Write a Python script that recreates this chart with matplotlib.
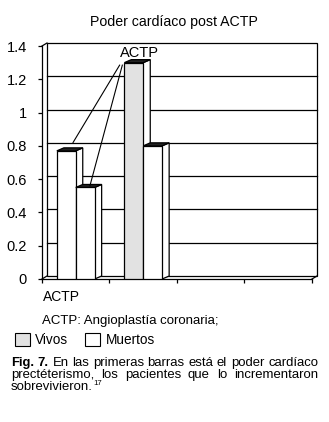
import matplotlib
matplotlib.use("Agg")
import matplotlib.pyplot as plt
from matplotlib.patches import Rectangle, Polygon

plt.rcParams['font.family'] = ['Liberation Sans', 'DejaVu Sans']

# ---------------- data ----------------
title = "Poder cardíaco post ACTP"
n_categories = 4
category_label = "ACTP"
bar_values = [0.77, 0.55, 1.30, 0.80]
bar_category = [0, 0, 1, 1]
bar_slot = [0, 1, 0, 1]
bar_colors = ["white", "white", "#e2e2e2", "white"]
yticks = [0, 0.2, 0.4, 0.6, 0.8, 1.0, 1.2, 1.4]
ytick_labels = ["0", "0.2", "0.4", "0.6", "0.8", "1", "1.2", "1.4"]
annotation_text = "ACTP"
footnote = "ACTP: Angioplastía coronaria;"
legend_labels = ["Vivos", "Muertos"]
legend_colors = ["#e2e2e2", "white"]
caption_lines = [
    "Fig. 7. En las primeras barras está el poder cardíaco",
    "prectéterismo, los pacientes que lo incrementaron",
    "sobrevivieron.",
]
caption_ref = "17"

# ---------------- layout ----------------
W, H = 329, 422
fig = plt.figure(figsize=(W / 100, H / 100), dpi=100)


def fx(px):
    return px / W


def fy(py):
    return 1 - py / H


AX_L, AX_R, AX_T, AX_B = 42, 312, 46, 279
ax = fig.add_axes([fx(AX_L), fy(AX_B), (AX_R - AX_L) / W, (AX_B - AX_T) / H])
ax.set_xlim(0, n_categories)
ax.set_ylim(0, 1.4)
sx = n_categories / (AX_R - AX_L)   # data units per pixel
sy = 1.4 / (AX_B - AX_T)

for s in ["top", "right"]:
    ax.spines[s].set_visible(False)
for s in ["left", "bottom"]:
    ax.spines[s].set_linewidth(0.9)
ax.patch.set_visible(False)
ax.set_yticks(yticks)
ax.set_yticklabels(ytick_labels, fontsize=10.5)
ax.set_xticks(range(n_categories + 1))
ax.set_xticklabels([])
ax.tick_params(axis="both", direction="out", length=3, width=0.9)
ax.tick_params(axis="y", pad=8)

lw = 0.9
# back wall (offset)
wx, wy = 5 * sx, 3 * sy
wall = Polygon([(wx, wy), (n_categories + wx, wy), (n_categories + wx, 1.4 + wy), (wx, 1.4 + wy)],
               closed=True, facecolor="white", edgecolor="black", lw=lw, clip_on=False, zorder=0)
ax.add_patch(wall)
for v in yticks[1:-1]:
    ax.plot([wx, n_categories + wx], [v + wy, v + wy], color="black", lw=lw, clip_on=False, zorder=1)
ax.plot([0, wx], [1.4, 1.4 + wy], color="black", lw=lw, clip_on=False, zorder=1)
ax.plot([0, wx], [0, wy], color="black", lw=lw, clip_on=False, zorder=1)
ax.plot([n_categories, n_categories + wx], [0, wy], color="black", lw=lw, clip_on=False, zorder=1)

# bars with pseudo-3D depth
bw = 0.28
bdx, bdy = 7 * sx, 3 * sy
for i, (v, c, s, col) in enumerate(zip(bar_values, bar_category, bar_slot, bar_colors)):
    x0 = c + 0.5 - bw + s * bw
    z = 3 + i
    ax.add_patch(Polygon([(x0 + bw, 0), (x0 + bw + bdx, bdy), (x0 + bw + bdx, v + bdy), (x0 + bw, v)],
                         closed=True, facecolor="white", edgecolor="black", lw=lw, zorder=z))
    ax.add_patch(Polygon([(x0, v), (x0 + bdx, v + bdy), (x0 + bw + bdx, v + bdy), (x0 + bw, v)],
                         closed=True, facecolor="#222222", edgecolor="black", lw=lw, zorder=z))
    ax.add_patch(Rectangle((x0, 0), bw, v, facecolor=col, edgecolor="black", lw=lw, zorder=z))

# annotation with leader lines to the first two bars
ax.text(1.45, 1.36, annotation_text, ha="center", va="center", fontsize=10.5, zorder=20)
x1_end = 0.5 - 0.04
x2_end = 0.5 + bw * 0.75
ax.plot([1.15, x1_end], [1.285, bar_values[0] + 0.05], color="black", lw=0.8, zorder=20)
ax.plot([1.19, x2_end], [1.285, bar_values[1] + 0.01], color="black", lw=0.8, zorder=20)

# texts
fig.text(fx(174), fy(22), title, ha="center", va="center", fontsize=10.2)
fig.text(fx(43), fy(297), category_label, ha="left", va="center", fontsize=10)
fig.text(fx(42), fy(321), footnote, ha="left", va="center", fontsize=9.5)

# legend
lx = [15, 85]
tx = [35, 106]
for x, lab, col, t in zip(lx, legend_labels, legend_colors, tx):
    fig.patches.append(Rectangle((fx(x), fy(346)), 15 / W, 13 / H, transform=fig.transFigure,
                                 facecolor=col, edgecolor="black", lw=0.8))
    fig.text(fx(t), fy(339.5), lab, ha="left", va="center", fontsize=9.8)

# caption, justified
X0, X1 = 11, 318
fig.canvas.draw()
r = fig.canvas.get_renderer()
cfs = 9.45
baselines = [366, 378, 390]
for li, (line, yb) in enumerate(zip(caption_lines, baselines)):
    words = line.split(" ")
    texts = []
    for wi, wd in enumerate(words):
        bold = (li == 0 and wi < 2)
        texts.append(fig.text(0, fy(yb), wd, fontsize=cfs, va="baseline",
                              weight="bold" if bold else "normal"))
    widths = [t.get_window_extent(r).width for t in texts]
    if li < len(caption_lines) - 1 and len(words) > 1:
        gap = (X1 - X0 - sum(widths)) / (len(words) - 1)
    else:
        gap = 2.5
    x = X0
    for t, w in zip(texts, widths):
        t.set_x(fx(x))
        x += w + gap
    if li == len(caption_lines) - 1:
        fig.text(fx(x - gap + 0.5), fy(yb - 5), caption_ref, fontsize=cfs * 0.6, va="baseline")

fig.savefig("out.png", dpi=100)
